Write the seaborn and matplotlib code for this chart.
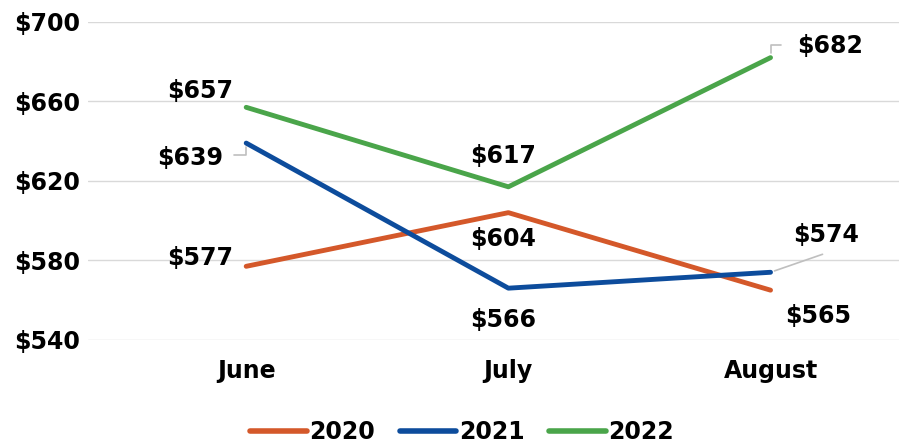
import pandas as pd
import matplotlib.pyplot as plt
import seaborn as sns

months = ["June", "July", "August"]
years = ["2020", "2021", "2022"]
v2020 = [577, 604, 565]
v2021 = [639, 566, 574]
v2022 = [657, 617, 682]
yticks = [540, 580, 620, 660, 700]

colors = {"2020": "#D4582A", "2021": "#0D4C9C", "2022": "#4AA54A"}

data = pd.DataFrame({
    "Month": months * 3,
    "Year": [y for y in years for _ in months],
    "Value": v2020 + v2021 + v2022,
})

sns.set_style("white")
plt.rcParams["font.family"] = ["DejaVu Sans"]
plt.rcParams["font.weight"] = "bold"
plt.rcParams["text.color"] = "black"
plt.rcParams["xtick.color"] = "black"
plt.rcParams["ytick.color"] = "black"

fs = 17

fig = plt.figure(figsize=(8.99, 4.46), dpi=100)
ax = fig.add_axes([0.098, 0.238, 0.902, 0.713])

sns.lineplot(data=data, x="Month", y="Value", hue="Year", palette=colors,
             linewidth=3.5, sort=False, ax=ax)

ax.set_ylim(540, 700)
ax.set_xlim(-0.603, 2.49)
ax.set_yticks(yticks)
ax.set_yticklabels([f"${v}" for v in yticks], fontsize=fs, fontweight="bold")
ax.set_xticks(range(len(months)))
ax.set_xticklabels(months, fontsize=fs, fontweight="bold")
ax.tick_params(axis="x", pad=14, length=0)
ax.tick_params(axis="y", pad=6, length=0)
ax.set_xlabel("")
ax.set_ylabel("")
ax.grid(axis="y", color="#d9d9d9", linewidth=1)
for s in ax.spines.values():
    s.set_visible(False)

# data labels: offset in pixels from each point
offsets = {
    ("2020", 0): (-46, 8), ("2020", 1): (-5, -26), ("2020", 2): (48, -26),
    ("2021", 0): (-56, -15), ("2021", 1): (-5, -32), ("2021", 2): (56, 37),
    ("2022", 0): (-46, 16), ("2022", 1): (-5, 31), ("2022", 2): (60, 12),
}
series = {"2020": v2020, "2021": v2021, "2022": v2022}
for yr, vals in series.items():
    for i, v in enumerate(vals):
        dx, dy = offsets[(yr, i)]
        ax.annotate(f"${v}", (i, v), xytext=(dx, dy), textcoords="offset pixels",
                    ha="center", va="center", fontsize=fs, fontweight="bold")

# leader lines
ax.annotate("", (0, 639), xytext=(-12, -12), textcoords="offset pixels",
            arrowprops=dict(arrowstyle="-", color="#bfbfbf", lw=1.2,
                            connectionstyle="angle,angleA=0,angleB=90,rad=0",
                            shrinkA=0, shrinkB=3))
ax.annotate("", (2, 682), xytext=(10, 13), textcoords="offset pixels",
            arrowprops=dict(arrowstyle="-", color="#bfbfbf", lw=1.2,
                            connectionstyle="angle,angleA=0,angleB=90,rad=0",
                            shrinkA=0, shrinkB=3))
ax.annotate("", (2, 574), xytext=(52, 18), textcoords="offset pixels",
            arrowprops=dict(arrowstyle="-", color="#bfbfbf", lw=1.2,
                            shrinkA=0, shrinkB=3))

leg = ax.legend(loc="center", bbox_to_anchor=(0.461, -0.29), ncol=3, frameon=False,
                handlelength=2.4, handletextpad=0.1, columnspacing=1.05,
                prop={"size": fs, "weight": "bold"})
for line in leg.get_lines():
    line.set_linewidth(4)
    line.set_solid_capstyle("round")

fig.savefig("out.png", dpi=100)
